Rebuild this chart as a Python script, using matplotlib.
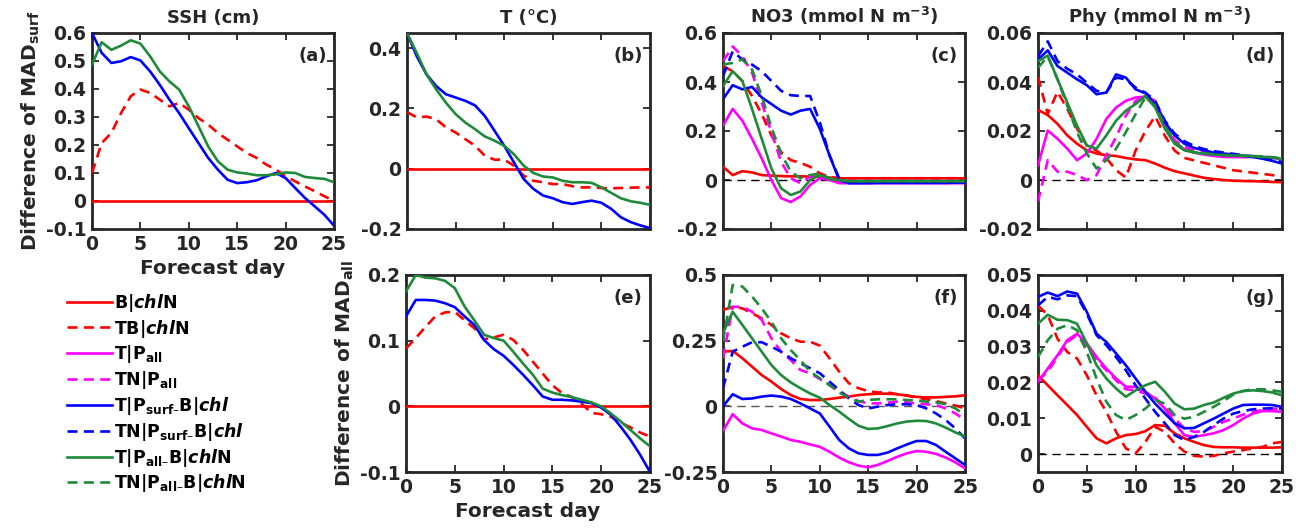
import numpy as np
import matplotlib
matplotlib.use("Agg")
import matplotlib.pyplot as plt
from matplotlib.ticker import FuncFormatter, MultipleLocator

plt.rcParams['font.family'] = ['DejaVu Sans']
plt.rcParams['font.weight'] = 'bold'
plt.rcParams['axes.unicode_minus'] = False
plt.rcParams['mathtext.fontset'] = 'dejavusans'

days = list(range(26))

# ---------------- (a) SSH ----------------
a_B_chlN = [0]*26
a_TB_chlN = [0.10, 0.207, 0.243, 0.314, 0.374, 0.398, 0.386, 0.362, 0.338, 0.350, 0.326, 0.296, 0.273,
             0.243, 0.219, 0.195, 0.171, 0.154, 0.130, 0.112, 0.088, 0.070, 0.052, 0.035, 0.017, 0.0]
a_T_Psurf = [0.60, 0.529, 0.493, 0.499, 0.514, 0.502, 0.463, 0.415, 0.362, 0.314, 0.260, 0.207, 0.154,
             0.112, 0.076, 0.064, 0.067, 0.074, 0.088, 0.100, 0.082, 0.046, 0.011, -0.019, -0.049, -0.088]
a_T_Pall = [0.487, 0.567, 0.540, 0.555, 0.574, 0.562, 0.517, 0.463, 0.427, 0.398, 0.338, 0.267, 0.195,
            0.142, 0.112, 0.102, 0.098, 0.092, 0.092, 0.095, 0.102, 0.100, 0.086, 0.082, 0.079, 0.067]

# ---------------- (b) T ----------------
b_B_chlN = [0]*26
b_TB_chlN = [0.188, 0.170, 0.173, 0.164, 0.137, 0.120, 0.098, 0.076, 0.043, 0.030, 0.030, 0.010, -0.023,
             -0.040, -0.045, -0.051, -0.051, -0.058, -0.062, -0.062, -0.064, -0.065, -0.064, -0.063, -0.062, -0.062]
b_T_Psurf = [0.45, 0.373, 0.313, 0.274, 0.247, 0.236, 0.225, 0.210, 0.175, 0.126, 0.076, 0.021, -0.034,
             -0.067, -0.089, -0.098, -0.111, -0.117, -0.111, -0.106, -0.113, -0.133, -0.161, -0.177, -0.188, -0.197]
b_T_Pall = [0.45, 0.384, 0.313, 0.263, 0.219, 0.181, 0.153, 0.131, 0.107, 0.093, 0.076, 0.048, 0.010,
            -0.014, -0.026, -0.029, -0.040, -0.045, -0.045, -0.047, -0.062, -0.080, -0.098, -0.108, -0.113, -0.120]

# ---------------- (c) NO3 surf ----------------
c_B_chlN = [0.054, 0.020, 0.036, 0.031, 0.020, 0.018, 0.016, 0.015, 0.015, 0.014, 0.013, 0.010, 0.007,
            0.007, 0.007, 0.007, 0.007, 0.007, 0.007, 0.007, 0.007, 0.007, 0.007, 0.007, 0.007, 0.007]
c_TB_chlN = [0.465, 0.444, 0.404, 0.343, 0.269, 0.182, 0.114, 0.081, 0.070, 0.054, 0.027, 0.013, 0.007,
             0.007, 0.007, 0.007, 0.007, 0.007, 0.007, 0.007, 0.007, 0.007, 0.007, 0.007, 0.007, 0.007]
c_T_Pall = [0.222, 0.290, 0.242, 0.168, 0.088, 0.0, -0.074, -0.090, -0.067, -0.020, 0.007, 0.0, -0.013,
            -0.013, -0.013, -0.013, -0.013, -0.013, -0.013, -0.013, -0.013, -0.013, -0.013, -0.013, -0.013, -0.013]
c_TN_Pall = [0.485, 0.545, 0.505, 0.438, 0.316, 0.195, 0.074, 0.007, -0.013, 0.013, 0.020, 0.0, -0.010,
             -0.010, -0.010, -0.010, -0.010, -0.010, -0.010, -0.010, -0.010, -0.010, -0.010, -0.010, -0.010, -0.010]
c_T_Psurf = [0.330, 0.387, 0.370, 0.380, 0.337, 0.310, 0.283, 0.267, 0.283, 0.290, 0.209, 0.101, 0.0,
             -0.013, -0.013, -0.013, -0.012, -0.012, -0.012, -0.012, -0.012, -0.012, -0.012, -0.012, -0.011, -0.011]
c_TN_Psurf = [0.424, 0.525, 0.492, 0.471, 0.444, 0.404, 0.364, 0.346, 0.343, 0.343, 0.236, 0.101, 0.007,
              -0.010, -0.010, -0.010, -0.010, -0.010, -0.010, -0.010, -0.010, -0.010, -0.010, -0.010, -0.010, -0.010]
c_T_PallB = [0.384, 0.444, 0.404, 0.290, 0.168, 0.047, -0.034, -0.061, -0.047, 0.0, 0.020, 0.004, 0.0,
             -0.005, -0.005, -0.005, -0.005, -0.005, -0.005, -0.005, -0.005, -0.005, -0.005, -0.005, -0.005, -0.005]
c_TN_PallB = [0.471, 0.478, 0.492, 0.451, 0.343, 0.215, 0.108, 0.034, 0.007, 0.020, 0.027, 0.007, 0.0,
              -0.004, -0.004, -0.004, -0.004, -0.004, -0.004, -0.004, -0.004, -0.004, -0.004, -0.004, -0.004, -0.004]

# ---------------- (d) Phy surf ----------------
d_B_chlN = [0.0286, 0.0265, 0.0229, 0.0182, 0.0148, 0.0121, 0.0108, 0.0101, 0.0098, 0.0090, 0.0084, 0.0081, 0.0067,
            0.0050, 0.0036, 0.0027, 0.0018, 0.0009, 0.0004, 0.0, -0.0003, -0.0004, -0.0005, -0.0006, -0.0008, -0.0009]
d_TB_chlN = [0.042, 0.027, 0.036, 0.029, 0.021, 0.014, 0.012, 0.009, 0.004, 0.001, 0.012, 0.020, 0.026,
             0.018, 0.012, 0.009, 0.008, 0.007, 0.006, 0.005, 0.004, 0.0035, 0.003, 0.0025, 0.002, 0.0015]
d_T_Pall = [0.0060, 0.0202, 0.0168, 0.0128, 0.0081, 0.0108, 0.0168, 0.0249, 0.0296, 0.0323, 0.0337, 0.0340, 0.0303,
            0.0222, 0.0155, 0.0125, 0.0112, 0.0104, 0.0098, 0.0094, 0.0094, 0.0093, 0.0094, 0.0094, 0.0090, 0.0085]
d_TN_Pall = [-0.0088, 0.0081, 0.0034, 0.0034, 0.0020, 0.0, 0.0020, 0.0101, 0.0175, 0.0263, 0.0323, 0.0343, 0.0323,
             0.0236, 0.0162, 0.0135, 0.0121, 0.0114, 0.0108, 0.0104, 0.0101, 0.0098, 0.0097, 0.0096, 0.0092, 0.0088]
d_T_Psurf = [0.0492, 0.0529, 0.0465, 0.0438, 0.0411, 0.0387, 0.0350, 0.0357, 0.0431, 0.0418, 0.0370, 0.0354, 0.0310,
             0.0236, 0.0182, 0.0148, 0.0131, 0.0121, 0.0112, 0.0108, 0.0104, 0.0099, 0.0094, 0.0087, 0.0078, 0.0067]
d_TN_Psurf = [0.0505, 0.0566, 0.0485, 0.0454, 0.0431, 0.0397, 0.0364, 0.0357, 0.0418, 0.0411, 0.0377, 0.0357, 0.0323,
              0.0242, 0.0189, 0.0158, 0.0139, 0.0126, 0.0118, 0.0112, 0.0107, 0.0101, 0.0097, 0.0090, 0.0081, 0.0074]
d_T_PallB = [0.0485, 0.0508, 0.0411, 0.0316, 0.0222, 0.0141, 0.0128, 0.0182, 0.0242, 0.0283, 0.0310, 0.0343, 0.0296,
             0.0209, 0.0148, 0.0121, 0.0112, 0.0108, 0.0104, 0.0101, 0.0100, 0.0098, 0.0097, 0.0094, 0.0092, 0.0085]
d_TN_PallB = [0.0458, 0.0505, 0.0411, 0.0303, 0.0195, 0.0108, 0.0047, 0.0081, 0.0128, 0.0195, 0.0269, 0.0337, 0.0303,
              0.0222, 0.0155, 0.0125, 0.0114, 0.0109, 0.0105, 0.0102, 0.0101, 0.0100, 0.0098, 0.0096, 0.0093, 0.0088]

# ---------------- (e) T all ----------------
e_B_chlN = [0]*26
e_TB_chlN = [0.088, 0.104, 0.121, 0.137, 0.143, 0.144, 0.131, 0.119, 0.102, 0.105, 0.109, 0.101, 0.086,
             0.068, 0.050, 0.032, 0.020, 0.014, 0.004, -0.010, -0.012, -0.016, -0.025, -0.032, -0.040, -0.046]
e_T_Psurf = [0.137, 0.162, 0.162, 0.161, 0.157, 0.151, 0.137, 0.124, 0.101, 0.087, 0.077, 0.063, 0.048,
             0.032, 0.015, 0.010, 0.010, 0.009, 0.007, 0.005, -0.002, -0.013, -0.031, -0.051, -0.074, -0.100]
e_T_Pall = [0.175, 0.200, 0.196, 0.195, 0.191, 0.180, 0.152, 0.131, 0.109, 0.104, 0.100, 0.083, 0.065,
            0.048, 0.027, 0.021, 0.017, 0.014, 0.010, 0.006, 0.0, -0.011, -0.023, -0.036, -0.049, -0.061]

# ---------------- (f) NO3 all ----------------
f_B_chlN = [0.208, 0.211, 0.183, 0.151, 0.119, 0.094, 0.066, 0.043, 0.028, 0.024, 0.024, 0.028, 0.033,
            0.037, 0.043, 0.046, 0.048, 0.048, 0.046, 0.041, 0.036, 0.034, 0.034, 0.036, 0.038, 0.042]
f_TB_chlN = [0.367, 0.379, 0.373, 0.354, 0.335, 0.310, 0.278, 0.259, 0.246, 0.246, 0.231, 0.183, 0.132,
             0.088, 0.069, 0.058, 0.053, 0.053, 0.046, 0.041, 0.033, 0.027, 0.020, 0.011, 0.003, -0.008]
f_T_Pall = [-0.094, -0.030, -0.065, -0.084, -0.090, -0.103, -0.115, -0.128, -0.135, -0.145, -0.154, -0.173, -0.195,
            -0.213, -0.226, -0.232, -0.223, -0.208, -0.192, -0.179, -0.170, -0.173, -0.181, -0.195, -0.213, -0.236]
f_TN_Pall = [0.183, 0.379, 0.379, 0.360, 0.329, 0.259, 0.208, 0.176, 0.138, 0.126, 0.104, 0.081, 0.056,
             0.037, 0.020, 0.011, 0.011, 0.014, 0.018, 0.015, 0.011, 0.008, 0.005, -0.008, -0.027, -0.052]
f_T_Psurf = [0.0, 0.046, 0.028, 0.030, 0.037, 0.041, 0.037, 0.028, 0.011, -0.008, -0.027, -0.077, -0.128,
             -0.160, -0.179, -0.185, -0.185, -0.176, -0.160, -0.145, -0.132, -0.132, -0.147, -0.173, -0.198, -0.223]
f_TN_Psurf = [0.069, 0.208, 0.227, 0.244, 0.244, 0.227, 0.208, 0.183, 0.164, 0.145, 0.126, 0.094, 0.062,
              0.030, 0.005, -0.008, -0.001, 0.005, 0.008, 0.008, 0.005, -0.008, -0.027, -0.052, -0.084, -0.122]
f_T_PallB = [0.278, 0.360, 0.310, 0.259, 0.208, 0.157, 0.119, 0.091, 0.069, 0.049, 0.033, 0.005, -0.020,
             -0.048, -0.074, -0.086, -0.084, -0.075, -0.065, -0.058, -0.055, -0.056, -0.065, -0.081, -0.099, -0.115]
f_TN_PallB = [0.246, 0.462, 0.456, 0.418, 0.373, 0.322, 0.259, 0.214, 0.176, 0.132, 0.107, 0.081, 0.053,
              0.033, 0.018, 0.024, 0.027, 0.027, 0.027, 0.024, 0.022, 0.018, 0.015, 0.008, -0.008, -0.033]

# ---------------- (g) Phy all ----------------
g_B_chlN = [0.0220, 0.0192, 0.0164, 0.0137, 0.0109, 0.0076, 0.0044, 0.0030, 0.0044, 0.0053, 0.0056, 0.0064, 0.0081,
            0.0079, 0.0058, 0.0044, 0.0034, 0.0025, 0.0020, 0.0019, 0.0019, 0.0018, 0.0018, 0.0018, 0.0018, 0.0019]
g_TB_chlN = [0.0415, 0.0388, 0.0322, 0.0285, 0.0267, 0.0220, 0.0164, 0.0118, 0.0062, 0.0016, 0.0002, 0.0034, 0.0076,
             0.0062, 0.0030, 0.0007, -0.0005, -0.0007, -0.0005, 0.0002, 0.0007, 0.0011, 0.0016, 0.0020, 0.0030, 0.0034]
g_T_Pall = [0.0202, 0.0239, 0.0276, 0.0318, 0.0336, 0.0309, 0.0271, 0.0239, 0.0211, 0.0188, 0.0188, 0.0174, 0.0155,
            0.0127, 0.0086, 0.0053, 0.0048, 0.0053, 0.0058, 0.0067, 0.0081, 0.0099, 0.0113, 0.0120, 0.0120, 0.0118]
g_TN_Pall = [0.0206, 0.0230, 0.0271, 0.0313, 0.0332, 0.0299, 0.0262, 0.0234, 0.0206, 0.0181, 0.0178, 0.0169, 0.0157,
             0.0132, 0.0099, 0.0072, 0.0062, 0.0064, 0.0076, 0.0090, 0.0099, 0.0110, 0.0118, 0.0123, 0.0127, 0.0127]
g_T_Psurf = [0.0439, 0.0451, 0.0441, 0.0454, 0.0448, 0.0397, 0.0336, 0.0313, 0.0281, 0.0248, 0.0211, 0.0174, 0.0141,
             0.0113, 0.0086, 0.0072, 0.0073, 0.0086, 0.0099, 0.0113, 0.0127, 0.0137, 0.0138, 0.0138, 0.0137, 0.0132]
g_TN_Psurf = [0.0415, 0.0439, 0.0432, 0.0443, 0.0441, 0.0392, 0.0332, 0.0304, 0.0271, 0.0234, 0.0192, 0.0155, 0.0118,
              0.0086, 0.0053, 0.0039, 0.0048, 0.0062, 0.0081, 0.0099, 0.0113, 0.0120, 0.0125, 0.0127, 0.0128, 0.0127]
g_T_PallB = [0.0364, 0.0389, 0.0375, 0.0374, 0.0364, 0.0309, 0.0248, 0.0211, 0.0183, 0.0160, 0.0178, 0.0192, 0.0202,
             0.0174, 0.0141, 0.0125, 0.0127, 0.0137, 0.0144, 0.0157, 0.0169, 0.0176, 0.0178, 0.0176, 0.0172, 0.0164]
g_TN_PallB = [0.0271, 0.0318, 0.0350, 0.0360, 0.0346, 0.0285, 0.0211, 0.0146, 0.0109, 0.0095, 0.0109, 0.0127, 0.0151,
              0.0141, 0.0109, 0.0099, 0.0104, 0.0118, 0.0132, 0.0148, 0.0166, 0.0176, 0.0181, 0.0181, 0.0178, 0.0174]

legend_labels = [
    r'B|$\mathbfit{chl}$N',
    r'TB|$\mathbfit{chl}$N',
    r'T|P$_{\mathbf{all}}$',
    r'TN|P$_{\mathbf{all}}$',
    r'T|P$_{\mathbf{surf–}}$B|$\mathbfit{chl}$',
    r'TN|P$_{\mathbf{surf–}}$B|$\mathbfit{chl}$',
    r'T|P$_{\mathbf{all–}}$B|$\mathbfit{chl}$N',
    r'TN|P$_{\mathbf{all–}}$B|$\mathbfit{chl}$N',
]
titles = ['SSH (cm)', 'T (°C)', r'NO3 (mmol N m$^{\mathbf{-3}}$)', r'Phy (mmol N m$^{\mathbf{-3}}$)']
panel_tags = ['(a)', '(b)', '(c)', '(d)', '(e)', '(f)', '(g)']

RED, MAG, BLUE, GREEN = '#ff0000', '#ff00ff', '#0000ff', '#1f8a3a'
DASH = (0, (3.8, 2.4))
styles = [(RED, '-'), (RED, DASH), (MAG, '-'), (MAG, DASH),
          (BLUE, '-'), (BLUE, DASH), (GREEN, '-'), (GREEN, DASH)]
LW = 1.9
AXC = '#262626'
TICK_FS = 13.5

W, H = 1306, 528
fig = plt.figure(figsize=(W / 100, H / 100), dpi=100)


def add_ax(x0, x1, y0, y1):
    return fig.add_axes([x0 / W, 1 - y1 / H, (x1 - x0) / W, (y1 - y0) / H])


def fmt(v, pos):
    if abs(v) < 1e-12:
        return '0'
    return ('%.3f' % v).rstrip('0').rstrip('.')


def style_ax(ax, ylim, ystep, xlabels=True):
    ax.set_xlim(0, 25)
    ax.set_ylim(*ylim)
    ax.xaxis.set_major_locator(MultipleLocator(5))
    ax.yaxis.set_major_locator(MultipleLocator(ystep))
    ax.yaxis.set_major_formatter(FuncFormatter(fmt))
    ax.tick_params(direction='in', length=5, width=1.3, top=True, right=True,
                   labelsize=TICK_FS, colors=AXC, pad=4)
    for lab in ax.get_xticklabels() + ax.get_yticklabels():
        lab.set_fontweight('bold')
    if not xlabels:
        ax.set_xticklabels([])
    for s in ax.spines.values():
        s.set_linewidth(2.0)
        s.set_color(AXC)


def plot_series(ax, series_list):
    handles = []
    for ser, (c, ls) in zip(series_list, styles):
        if ser is None:
            handles.append(None)
            continue
        h, = ax.plot(days, ser, color=c, linestyle=ls, lw=LW, zorder=3)
        handles.append(h)
    return handles


def tag(ax, t):
    ax.text(0.97, 0.93, t, transform=ax.transAxes, ha='right', va='top',
            fontsize=13, fontweight='bold', color=AXC)


def zero_line(ax, color='k'):
    ax.axhline(0, color=color, lw=1.0, linestyle=(0, (6, 4)), zorder=2)


# top row
ax_a = add_ax(92, 334, 33, 229)
ax_b = add_ax(407, 650, 33, 229)
ax_c = add_ax(723, 965, 33, 229)
ax_d = add_ax(1038, 1282, 33, 229)
# bottom row
ax_e = add_ax(406, 650, 275, 472)
ax_f = add_ax(723, 965, 275, 472)
ax_g = add_ax(1038, 1282, 275, 472)

plot_series(ax_a, [a_B_chlN, a_TB_chlN, None, None, a_T_Psurf, None, a_T_Pall, None])
plot_series(ax_b, [b_B_chlN, b_TB_chlN, None, None, b_T_Psurf, None, b_T_Pall, None])
zero_line(ax_c)
handles = plot_series(ax_c, [c_B_chlN, c_TB_chlN, c_T_Pall, c_TN_Pall, c_T_Psurf, c_TN_Psurf, c_T_PallB, c_TN_PallB])
zero_line(ax_d)
plot_series(ax_d, [d_B_chlN, d_TB_chlN, d_T_Pall, d_TN_Pall, d_T_Psurf, d_TN_Psurf, d_T_PallB, d_TN_PallB])
plot_series(ax_e, [e_B_chlN, e_TB_chlN, None, None, e_T_Psurf, None, e_T_Pall, None])
zero_line(ax_f, '#555555')
plot_series(ax_f, [f_B_chlN, f_TB_chlN, f_T_Pall, f_TN_Pall, f_T_Psurf, f_TN_Psurf, f_T_PallB, f_TN_PallB])
zero_line(ax_g)
plot_series(ax_g, [g_B_chlN, g_TB_chlN, g_T_Pall, g_TN_Pall, g_T_Psurf, g_TN_Psurf, g_T_PallB, g_TN_PallB])

style_ax(ax_a, (-0.1, 0.6), 0.1, True)
style_ax(ax_b, (-0.2, 0.45), 0.2, False)
style_ax(ax_c, (-0.2, 0.6), 0.2, False)
style_ax(ax_d, (-0.02, 0.06), 0.02, False)
style_ax(ax_e, (-0.1, 0.2), 0.1, True)
style_ax(ax_f, (-0.25, 0.5), 0.25, True)
style_ax(ax_g, (-0.005, 0.05), 0.01, True)

for ax, t in zip([ax_a, ax_b, ax_c, ax_d], titles):
    ax.set_title(t, fontsize=13, fontweight='bold', color=AXC, pad=7)

for ax, t in zip([ax_a, ax_b, ax_c, ax_d, ax_e, ax_f, ax_g], panel_tags):
    tag(ax, t)

ax_a.set_xlabel('Forecast day', fontsize=14.5, fontweight='bold', color=AXC, labelpad=4)
ax_e.set_xlabel('Forecast day', fontsize=14.5, fontweight='bold', color=AXC, labelpad=4)
ax_a.set_ylabel(r'Difference of MAD$_{\mathbf{surf}}$', fontsize=14.5, fontweight='bold', color=AXC, labelpad=3)
ax_e.set_ylabel(r'Difference of MAD$_{\mathbf{all}}$', fontsize=14.5, fontweight='bold', color=AXC, labelpad=3)

leg = fig.legend(handles, legend_labels, loc='upper left', bbox_to_anchor=(58 / W, 1 - 283 / H),
                 frameon=False, handlelength=2.6, handletextpad=0.1,
                 borderpad=0, labelspacing=0.22, prop={'weight': 'bold', 'size': 12.5})
for t in leg.get_texts():
    t.set_color('black')

fig.savefig('out.png', dpi=100)
